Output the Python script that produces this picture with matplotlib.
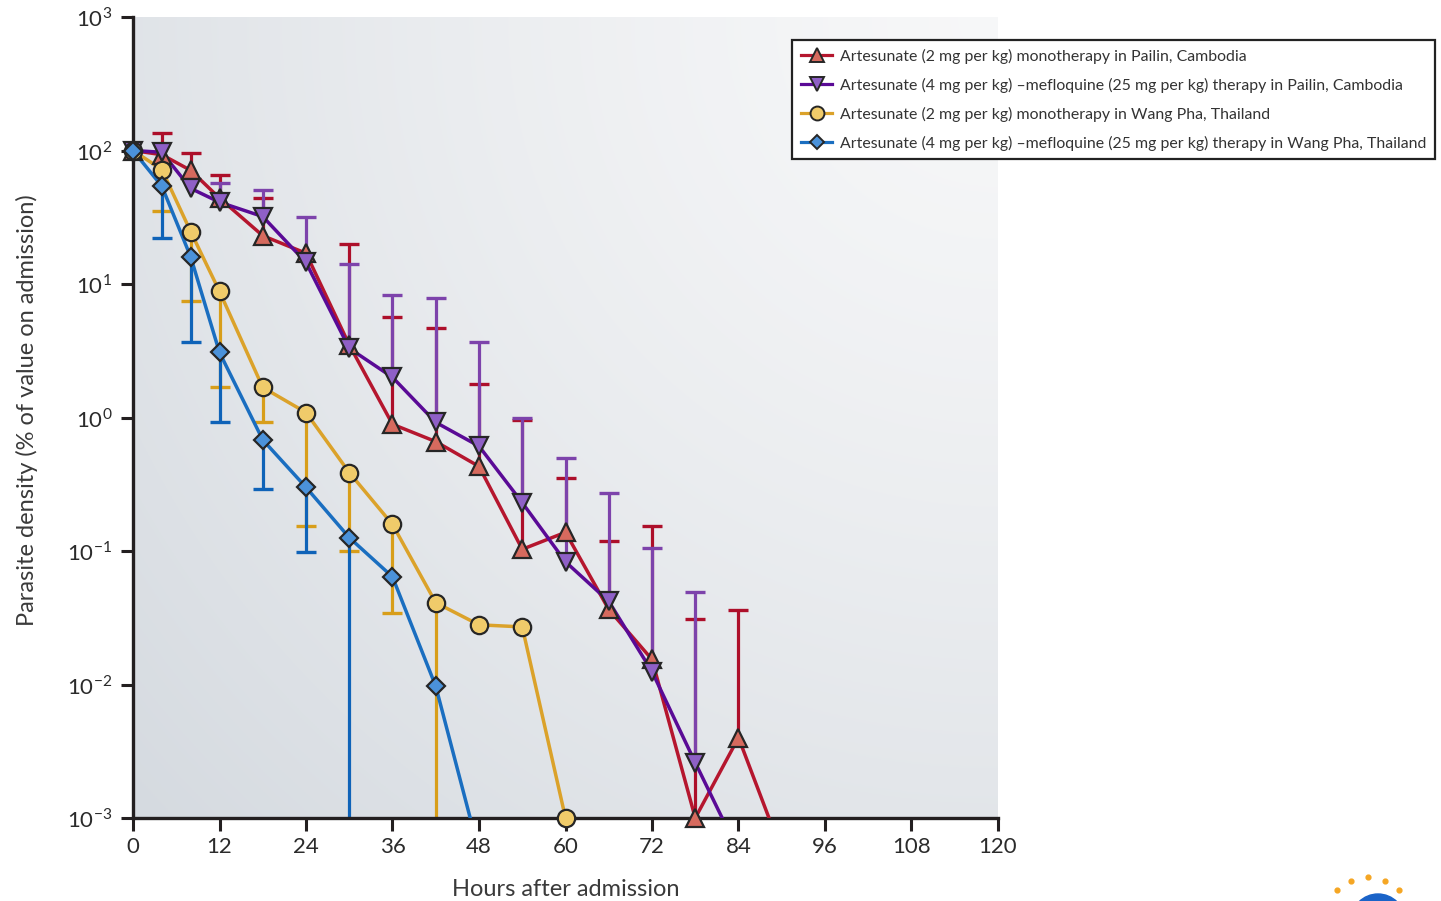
import numpy as np
import matplotlib.pyplot as plt
from matplotlib.lines import Line2D
from matplotlib.patches import Circle

plt.rcParams['font.family'] = ['Lato', 'DejaVu Sans']
plt.rcParams['mathtext.fontset'] = 'custom'
plt.rcParams['mathtext.rm'] = 'Lato'

# data (values in % of admission value)
# last point of three series = undetectable, drawn below the axis floor
hours_red = [0, 4, 8, 12, 18, 24, 30, 36, 42, 48, 54, 60, 66, 72, 78, 84, 90]
dens_red = [100, 93, 71, 44, 23, 17, 3.5, 0.89, 0.66, 0.43, 0.103, 0.138, 0.0365, 0.0154, 0.001, 0.004, 0.00056]
upper_red = [np.nan, 136, 95, 66, 44, np.nan, 20, 5.7, 4.7, 1.77, 0.95, 0.35, 0.118, 0.153, 0.031, 0.036, np.nan]

hours_purple = [0, 4, 8, 12, 18, 24, 30, 36, 42, 48, 54, 60, 66, 72, 78, 84]
dens_purple = [100, 97, 52, 41, 32, 14.5, 3.3, 2.0, 0.92, 0.61, 0.23, 0.083, 0.042, 0.0125, 0.0026, 0.00056]
upper_purple = [np.nan, np.nan, np.nan, 57, 51, 32, 14, 8.3, 7.9, 3.65, 1.0, 0.5, 0.27, 0.106, 0.049, np.nan]

hours_yellow = [0, 4, 8, 12, 18, 24, 30, 36, 42, 48, 54, 60]
dens_yellow = [100, 72, 24.7, 8.8, 1.68, 1.09, 0.387, 0.158, 0.041, 0.028, 0.027, 0.001]
lower_yellow = [np.nan, 35.5, 7.4, 1.68, 0.93, 0.153, 0.1, 0.0346, 0.0001, np.nan, np.nan, np.nan]

hours_blue = [0, 4, 8, 12, 18, 24, 30, 36, 42, 48]
dens_blue = [100, 54, 16, 3.07, 0.68, 0.30, 0.126, 0.064, 0.0097, 0.00056]
lower_blue = [np.nan, 22.3, 3.65, 0.93, 0.29, 0.0975, 0.0001, np.nan, np.nan, np.nan]

labels = ['Artesunate (2 mg per kg) monotherapy in Pailin, Cambodia',
          'Artesunate (4 mg per kg) \u2013mefloquine (25 mg per kg) therapy in Pailin, Cambodia',
          'Artesunate (2 mg per kg) monotherapy in Wang Pha, Thailand',
          'Artesunate (4 mg per kg) \u2013mefloquine (25 mg per kg) therapy in Wang Pha, Thailand']

series = [
    (hours_red, dens_red, upper_red, '^', 13, '#b5162e', '#d66a5e', '#ad0f2a'),
    (hours_purple, dens_purple, upper_purple, 'v', 13, '#5a0a96', '#8f60c6', '#7d43ab'),
    (hours_yellow, dens_yellow, lower_yellow, 'o', 12.5, '#dba22a', '#f0cb6a', '#d89e1a'),
    (hours_blue, dens_blue, lower_blue, 'D', 9.5, '#1a6ec0', '#4b92da', '#0f63b8'),
]
edge = '#262626'

fig = plt.figure(figsize=(14.41, 9.01), dpi=100)
pos = [133 / 1441, 1 - 818 / 901, 865 / 1441, 801 / 901]

# gradient background behind the plot area
bg = fig.add_axes(pos, zorder=0)
u = np.linspace(0, 1, 400)
v = np.linspace(0, 1, 400)
U, V = np.meshgrid(u, v)
d = np.sqrt(((1 - U) * 865) ** 2 + ((1 - V) * 801) ** 2) / np.hypot(865, 801)
d = np.clip(d, 0, 1) ** 1.3
light = np.array([0.968, 0.970, 0.974])
dark = np.array([0.835, 0.855, 0.878])
img = light[None, None, :] + (dark - light)[None, None, :] * d[:, :, None]
bg.imshow(img, extent=[0, 1, 0, 1], origin='lower', aspect='auto')
bg.axis('off')

ax = fig.add_axes(pos, zorder=1)
ax.patch.set_alpha(0)
ax.set_yscale('log')
ax.set_xlim(0, 120)
ax.set_ylim(1e-3, 1e3)

# error bars (one-sided)
for hrs, dens, bound, mk, ms, lc, fc, ec in series:
    for h, y, b in zip(hrs, dens, bound):
        if np.isnan(b):
            continue
        ax.plot([h, h], [y, b], color=ec, lw=2.3, zorder=2, solid_capstyle='butt')
        ax.plot([h], [b], marker='_', ms=15, mew=2.4, color=ec, zorder=2)

# lines
for hrs, dens, bound, mk, ms, lc, fc, ec in series:
    ax.plot(hrs, dens, color=lc, lw=2.5, zorder=3)

# markers (only points at or above the axis floor)
for hrs, dens, bound, mk, ms, lc, fc, ec in series:
    h = np.array(hrs)
    y = np.array(dens)
    keep = y >= 1e-3
    ax.plot(h[keep], y[keep], ls='none', marker=mk, ms=ms, mfc=fc, mec=edge,
            mew=1.6, zorder=4, clip_on=False)

for s in ['top', 'right']:
    ax.spines[s].set_visible(False)
for s in ['left', 'bottom']:
    ax.spines[s].set_linewidth(2.4)
    ax.spines[s].set_color('#231f20')

ax.set_xticks(np.arange(0, 121, 12))
ax.set_xticklabels([str(t) for t in range(0, 121, 12)])
yt = [1e-3, 1e-2, 1e-1, 1, 10, 100, 1000]
ax.set_yticks(yt)
ax.set_yticklabels(['$10^{-3}$', '$10^{-2}$', '$10^{-1}$', '$10^{0}$', '$10^{1}$', '$10^{2}$', '$10^{3}$'])
ax.minorticks_off()
ax.tick_params(axis='both', direction='out', length=9, width=2.2, color='#231f20',
               labelsize=16, labelcolor='#2b2b2b')
ax.tick_params(axis='y', pad=6)
ax.tick_params(axis='x', pad=5)

fig.text(27 / 1441, 1 - 410 / 901, 'Parasite density (% of value on admission)', rotation=90,
         ha='center', va='center', fontsize=17, color='#3a3a3a')
fig.text(566 / 1441, 1 - 889 / 901, 'Hours after admission', ha='center', va='center',
         fontsize=17, color='#3a3a3a')

handles = []
for hrs, dens, bound, mk, ms, lc, fc, ec in series:
    handles.append(Line2D([], [], color=lc, lw=2.3, marker=mk, ms=ms * 0.8, mfc=fc,
                          mec=edge, mew=1.4))
leg = fig.legend(handles, labels, loc='upper left', bbox_to_anchor=(792 / 1441, 1 - 40 / 901),
                 fontsize=11.4, frameon=True, fancybox=False, edgecolor='#222222',
                 framealpha=1, handlelength=2.0, handletextpad=0.45, labelspacing=0.88,
                 borderpad=0.55, borderaxespad=0)
leg.get_frame().set_linewidth(1.6)
for t in leg.get_texts():
    t.set_color('#333333')

# publisher logo fragment, bottom right
logo = fig.add_axes([0, 0, 1, 1], zorder=5)
logo.set_xlim(0, 1441)
logo.set_ylim(901, 0)
logo.axis('off')
logo.add_patch(Circle((1378, 921), 27, color='#1a63c8'))
ang = np.linspace(200, 340, 7)
logo.scatter(1368 + 43 * np.cos(np.radians(ang)), 920 + 43 * np.sin(np.radians(ang)),
             s=12, color='#f5a623')

fig.savefig('out.png', dpi=100)
